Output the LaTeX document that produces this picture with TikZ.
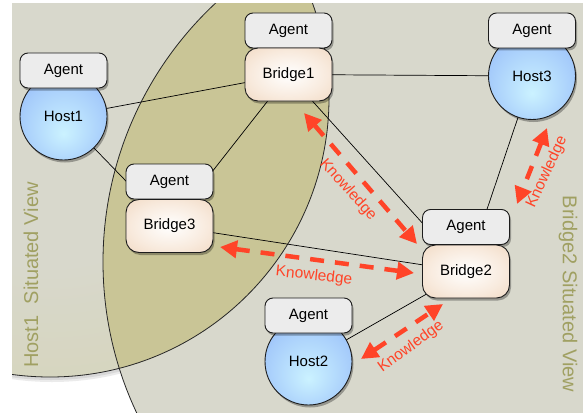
\documentclass[tikz,border=0pt]{standalone}
\usepackage{fontspec}
\setmainfont{Liberation Sans}
\usetikzlibrary{arrows.meta,shadows}
\definecolor{agentfill}{HTML}{ECECEC}
\definecolor{edgeclr}{HTML}{1C1C1C}
\definecolor{peach}{HTML}{EBCBAC}
\definecolor{peachmid}{HTML}{F8EADD}
\definecolor{hostblue}{HTML}{7396F3}
\definecolor{hostmid}{HTML}{A6CCFB}
\definecolor{hostlight}{HTML}{CBF2FF}
\definecolor{viewin}{HTML}{D8D8CC}
\definecolor{viewout}{HTML}{D3D1A6}
\definecolor{olivein}{HTML}{C9C596}
\definecolor{oliveout}{HTML}{C1BC87}
\definecolor{know}{HTML}{FF4428}
\definecolor{viewtext}{HTML}{A0A062}
\pgfdeclareradialshading{bridgeshade}{\pgfpoint{0bp}{0bp}}{color(0bp)=(white); color(22bp)=(peachmid); color(50bp)=(peach)}
\pgfdeclareradialshading{hostshade}{\pgfpoint{0bp}{-10bp}}{color(0bp)=(hostlight); color(25bp)=(hostmid); color(50bp)=(hostblue)}
\pgfdeclareradialshading{viewshade}{\pgfpoint{0bp}{0bp}}{color(0bp)=(viewin); color(34bp)=(viewin); color(50bp)=(viewout)}
\pgfdeclareradialshading{hostviewshade}{\pgfpoint{0bp}{0bp}}{color(0bp)=(viewin); color(15bp)=(viewin); color(45bp)=(viewout); color(50bp)=(viewout)}
\pgfdeclareradialshading{oliveshade}{\pgfpoint{0bp}{0bp}}{color(0bp)=(olivein); color(34bp)=(olivein); color(50bp)=(oliveout)}
\pgfdeclarelayer{bg}
\pgfdeclarelayer{mid}
\pgfsetlayers{bg,mid,main}
\begin{document}
\begin{tikzpicture}[x=1pt,y=-1pt,
  every node/.style={font=\fontsize{15}{18}\selectfont, text=black},
  nodeshadow/.style={drop shadow={shadow xshift=1.5pt, shadow yshift=-2.5pt, opacity=0.3, fill=black}},
  agentbox/.style={draw=edgeclr, line width=0.9pt, fill=agentfill, rounded corners=8pt, minimum width=87pt, minimum height=35pt, inner sep=0pt, nodeshadow},
  bridgebox/.style={draw=edgeclr, line width=0.9pt, shade, shading=bridgeshade, rounded corners=13pt, minimum width=87pt, minimum height=53pt, inner sep=0pt, nodeshadow},
  hostnode/.style={circle, draw=edgeclr, line width=0.9pt, shade, shading=hostshade, minimum size=87pt, inner sep=0pt, nodeshadow},
  link/.style={draw=black, line width=0.7pt},
  knowarrow/.style={draw=know, line width=4.5pt, dash pattern=on 14pt off 11pt, {Triangle[length=17pt,width=17pt]}-{Triangle[length=17pt,width=17pt]}},
  knowlabel/.style={text=know, font=\fontsize{15.5}{18}\selectfont, inner sep=0pt},
  viewlabel/.style={text=viewtext, font=\fontsize{20}{23}\selectfont, inner sep=0pt},
  viewborder/.style={draw=black!85, line width=0.8pt}
]
\useasboundingbox (0,0) rectangle (583,412);
\begin{pgfonlayer}{bg}
  \fill[white] (0,0) rectangle (583,412);
  \begin{scope}
    \clip (12,4) rectangle (583,412);
    \fill[black, opacity=0.08] (52,103) circle[radius=279pt];
    \fill[black, opacity=0.08] (51,101) circle[radius=279pt];
    \fill[black, opacity=0.08] (460,266) circle[radius=354pt];
    \fill[black, opacity=0.08] (459,264) circle[radius=354pt];
    \shade[shading=hostviewshade] (50,98) circle[radius=279pt];
    \shade[shading=viewshade] (457,262) circle[radius=354pt];
    \begin{scope}
      \clip (50,98) circle[radius=279pt];
      \shade[shading=oliveshade] (457,262) circle[radius=354pt];
    \end{scope}
    \draw[viewborder] (50,98) circle[radius=279pt];
    \draw[viewborder] (457,262) circle[radius=354pt];
  \end{scope}
\end{pgfonlayer}

\node[viewlabel, rotate=90] (host1view) at (31,275) {Host1\ \ Situated View};
\node[viewlabel, rotate=-90] (bridge2view) at (568,294) {Bridge2 Situated View};

% Host1
\node[hostnode] (host1) at (63.5,116.5) {Host1};
\node[agentbox] (host1agent) at (63.5,70.5) {Agent};
% Bridge1
\node[agentbox] (bridge1agent) at (288.5,30.5) {Agent};
\node[bridgebox] (bridge1) at (288.5,74.5) {Bridge1};
% Host3
\node[hostnode] (host3) at (532,76) {Host3};
\node[agentbox] (host3agent) at (532,30.5) {Agent};
% Bridge3
\node[agentbox] (bridge3agent) at (169.5,181.5) {Agent};
\node[bridgebox] (bridge3) at (169.5,226) {Bridge3};
% Bridge2
\node[agentbox] (bridge2agent) at (466,227) {Agent};
\node[bridgebox] (bridge2) at (466,271.5) {Bridge2};
% Host2
\node[hostnode] (host2) at (308.5,361.5) {Host2};
\node[agentbox] (host2agent) at (308.5,315.5) {Agent};

\begin{pgfonlayer}{mid}
  \draw[link] (host1.center) -- (bridge1.center);
  \draw[link] (host1.center) -- (bridge3.center);
  \draw[link] (bridge1.center) -- (bridge3.center);
  \draw[link] (bridge1.center) -- (host3.center);
  \draw[link] (bridge1.center) -- (bridge2.center);
  \draw[link] (host3.center) -- (bridge2.center);
  \draw[link] (bridge3.center) -- (bridge2.center);
  \draw[link] (host2.center) -- (bridge2.center);
\end{pgfonlayer}

\coordinate (k1a) at (304,113);
\coordinate (k1b) at (417,244);
\coordinate (k2a) at (220,247);
\coordinate (k2b) at (414,273);
\coordinate (k3a) at (547,128);
\coordinate (k3b) at (517,204);
\coordinate (k4a) at (361,359);
\coordinate (k4b) at (443,304);
\draw[knowarrow] (k1a) -- (k1b);
\draw[knowarrow] (k2a) -- (k2b);
\draw[knowarrow] (k3a) -- (k3b);
\draw[knowarrow] (k4a) -- (k4b);

\node[knowlabel, rotate=-48] (kl1) at (348,190) {Knowledge};
\node[knowlabel, rotate=-6] (kl2) at (314,276) {Knowledge};
\node[knowlabel, rotate=65] (kl3) at (547,172) {Knowledge};
\node[knowlabel, rotate=36] (kl4) at (411,347) {Knowledge};
\end{tikzpicture}
\end{document}
